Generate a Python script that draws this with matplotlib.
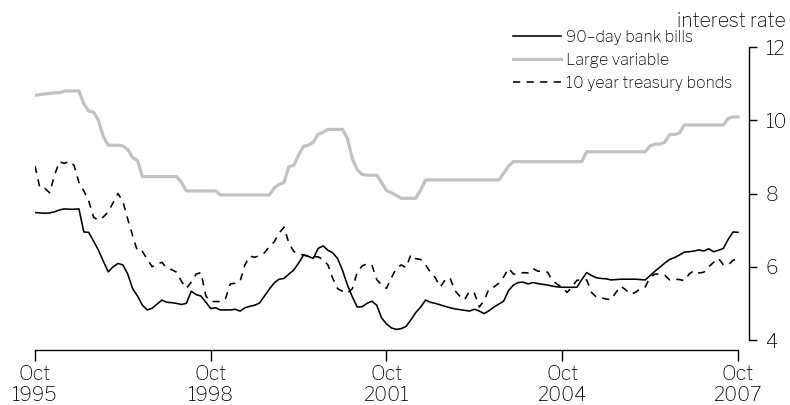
import matplotlib
matplotlib.use("Agg")
import matplotlib.pyplot as plt

# ---- data (monthly, Oct 1995 .. Oct 2007) ----
start_year = 1995.75
large_variable = [
    10.68, 10.70, 10.72, 10.73, 10.75, 10.75, 10.80, 10.80, 10.80, 10.80,
    10.45, 10.25, 10.22, 10.00, 9.55, 9.32, 9.32, 9.32, 9.30, 9.20,
    8.98, 8.90, 8.46, 8.46, 8.46, 8.46, 8.46, 8.46, 8.46, 8.46,
    8.30, 8.07, 8.07, 8.07, 8.07, 8.07, 8.07, 8.07, 7.96, 7.96,
    7.96, 7.96, 7.96, 7.96, 7.96, 7.96, 7.96, 7.96, 7.96, 8.15,
    8.25, 8.30, 8.73, 8.77, 9.05, 9.29, 9.32, 9.40, 9.62, 9.67,
    9.75, 9.75, 9.75, 9.75, 9.50, 8.95, 8.65, 8.52, 8.50, 8.50,
    8.50, 8.30, 8.08, 8.02, 7.95, 7.87, 7.87, 7.87, 7.87, 8.10,
    8.37, 8.37, 8.37, 8.37, 8.37, 8.37, 8.37, 8.37, 8.37, 8.37,
    8.37, 8.37, 8.37, 8.37, 8.37, 8.37, 8.55, 8.75, 8.87, 8.87,
    8.87, 8.87, 8.87, 8.87, 8.87, 8.87, 8.87, 8.87, 8.87, 8.87,
    8.87, 8.87, 8.87, 9.14, 9.14, 9.14, 9.14, 9.14, 9.14, 9.14,
    9.14, 9.14, 9.14, 9.14, 9.14, 9.14, 9.30, 9.35, 9.35, 9.40,
    9.61, 9.61, 9.65, 9.87, 9.87, 9.87, 9.87, 9.87, 9.87, 9.87,
    9.87, 9.87, 10.05, 10.09, 10.09,
]
bank_bills = [
    7.48, 7.47, 7.46, 7.47, 7.50, 7.55, 7.58, 7.57, 7.57, 7.58,
    6.95, 6.94, 6.70, 6.45, 6.15, 5.86, 6.00, 6.09, 6.05, 5.80,
    5.40, 5.20, 4.95, 4.82, 4.87, 4.98, 5.09, 5.03, 5.02, 5.00,
    4.97, 5.00, 5.33, 5.24, 5.20, 5.03, 4.86, 4.88, 4.82, 4.82,
    4.82, 4.84, 4.79, 4.88, 4.92, 4.95, 5.01, 5.20, 5.39, 5.56,
    5.66, 5.68, 5.80, 5.91, 6.10, 6.32, 6.28, 6.23, 6.50, 6.57,
    6.45, 6.38, 6.22, 5.90, 5.50, 5.18, 4.90, 4.91, 5.00, 5.06,
    4.95, 4.60, 4.44, 4.33, 4.29, 4.31, 4.37, 4.55, 4.75, 4.90,
    5.09, 5.03, 5.00, 4.96, 4.92, 4.88, 4.85, 4.83, 4.81, 4.79,
    4.84, 4.79, 4.72, 4.80, 4.90, 4.98, 5.06, 5.35, 5.50, 5.57,
    5.58, 5.53, 5.57, 5.54, 5.52, 5.50, 5.47, 5.45, 5.44, 5.44,
    5.44, 5.44, 5.65, 5.84, 5.76, 5.70, 5.68, 5.67, 5.64, 5.65,
    5.66, 5.66, 5.66, 5.66, 5.65, 5.64, 5.76, 5.88, 5.99, 6.10,
    6.20, 6.25, 6.32, 6.40, 6.41, 6.43, 6.46, 6.43, 6.49, 6.41,
    6.45, 6.50, 6.75, 6.95, 6.94,
]
treasury_bonds = [
    8.75, 8.15, 8.14, 8.02, 8.50, 8.87, 8.82, 8.88, 8.77, 8.30,
    8.07, 7.80, 7.35, 7.27, 7.36, 7.50, 7.75, 8.00, 7.78, 7.30,
    6.85, 6.42, 6.42, 6.20, 6.00, 6.08, 6.12, 5.96, 5.92, 5.85,
    5.60, 5.41, 5.58, 5.80, 5.84, 5.20, 5.05, 5.05, 5.05, 5.12,
    5.53, 5.55, 5.60, 6.05, 6.29, 6.26, 6.30, 6.38, 6.55, 6.68,
    6.92, 7.08, 6.65, 6.42, 6.35, 6.32, 6.30, 6.28, 6.27, 6.20,
    6.05, 5.68, 5.40, 5.33, 5.28, 5.40, 5.85, 6.02, 6.08, 6.05,
    5.65, 5.50, 5.41, 5.70, 5.95, 6.05, 5.98, 6.33, 6.22, 6.20,
    6.05, 5.85, 5.70, 5.45, 5.64, 5.70, 5.35, 5.20, 5.10, 5.33,
    5.28, 4.90, 5.08, 5.40, 5.45, 5.55, 5.72, 5.96, 5.80, 5.80,
    5.84, 5.83, 5.95, 5.88, 5.88, 5.85, 5.62, 5.52, 5.44, 5.30,
    5.45, 5.63, 5.65, 5.64, 5.30, 5.17, 5.15, 5.12, 5.10, 5.30,
    5.47, 5.37, 5.25, 5.30, 5.40, 5.45, 5.72, 5.80, 5.80, 5.77,
    5.64, 5.66, 5.65, 5.62, 5.80, 5.90, 5.83, 5.85, 6.00, 6.12,
    6.23, 6.05, 6.05, 6.18, 6.22,
]
xtick_years = [1995.75, 1998.75, 2001.75, 2004.75, 2007.75]
xtick_labels = ["Oct\n1995", "Oct\n1998", "Oct\n2001", "Oct\n2004", "Oct\n2007"]
yticks = [4, 6, 8, 10, 12]
series_names = ["90\u2013day bank bills", "Large variable", "10 year treasury bonds"]

# ---- fonts ----
FONT = ["Libre Franklin", "Liberation Sans", "DejaVu Sans"]
plt.rcParams["font.family"] = FONT

dates = [start_year + i / 12 for i in range(len(bank_bills))]

fig = plt.figure(figsize=(7.9, 4.05), dpi=100)
W, H = 790, 405
left, right, bottom_px, top_px = 35, 749, 350, 47
ax = fig.add_axes([left / W, (H - bottom_px) / H, (right - left) / W, (bottom_px - top_px) / H])

l2, = ax.plot(dates, large_variable, color="#c2c2c2", lw=2.3, solid_joinstyle="round")
l1, = ax.plot(dates, bank_bills, color="black", lw=1.15)
l3, = ax.plot(dates, treasury_bonds, color="black", lw=1.15, ls=(0, (4.5, 4)))

x0 = 1995.75
x1 = x0 + 12 * (right - left) / (738 - left)
ax.set_xlim(x0, x1)
ypp = 2 / 73.3
ax.set_ylim(4 - (bottom_px - 340) * ypp, 12)

for s in ["left", "top"]:
    ax.spines[s].set_visible(False)
ax.spines["right"].set_bounds(4, 12)
ax.spines["bottom"].set_bounds(1995.75, 2007.75)
for s in ["right", "bottom"]:
    ax.spines[s].set_linewidth(1.0)

ax.yaxis.tick_right()
ax.set_yticks(yticks)
ax.set_yticklabels([str(v) for v in yticks])
ax.tick_params(axis="y", direction="out", length=6, width=1.0, pad=6, labelsize=14)
ax.set_xticks(xtick_years)
ax.set_xticklabels(xtick_labels, linespacing=1.2)
ax.tick_params(axis="x", direction="out", length=8, width=1.0, pad=3, labelsize=14)

fig.text(786 / W, 1 - 21 / H, "interest rate", ha="right", va="center", fontsize=14)

leg = ax.legend([l1, l2, l3], series_names, loc="upper left",
                bbox_to_anchor=(505 / W, 1 - 22 / H), bbox_transform=fig.transFigure,
                frameon=False, handlelength=3.0, handletextpad=0.3, labelspacing=0.5,
                borderpad=0, prop={"family": FONT, "size": 11.5})

fig.savefig("out.png", dpi=100)
